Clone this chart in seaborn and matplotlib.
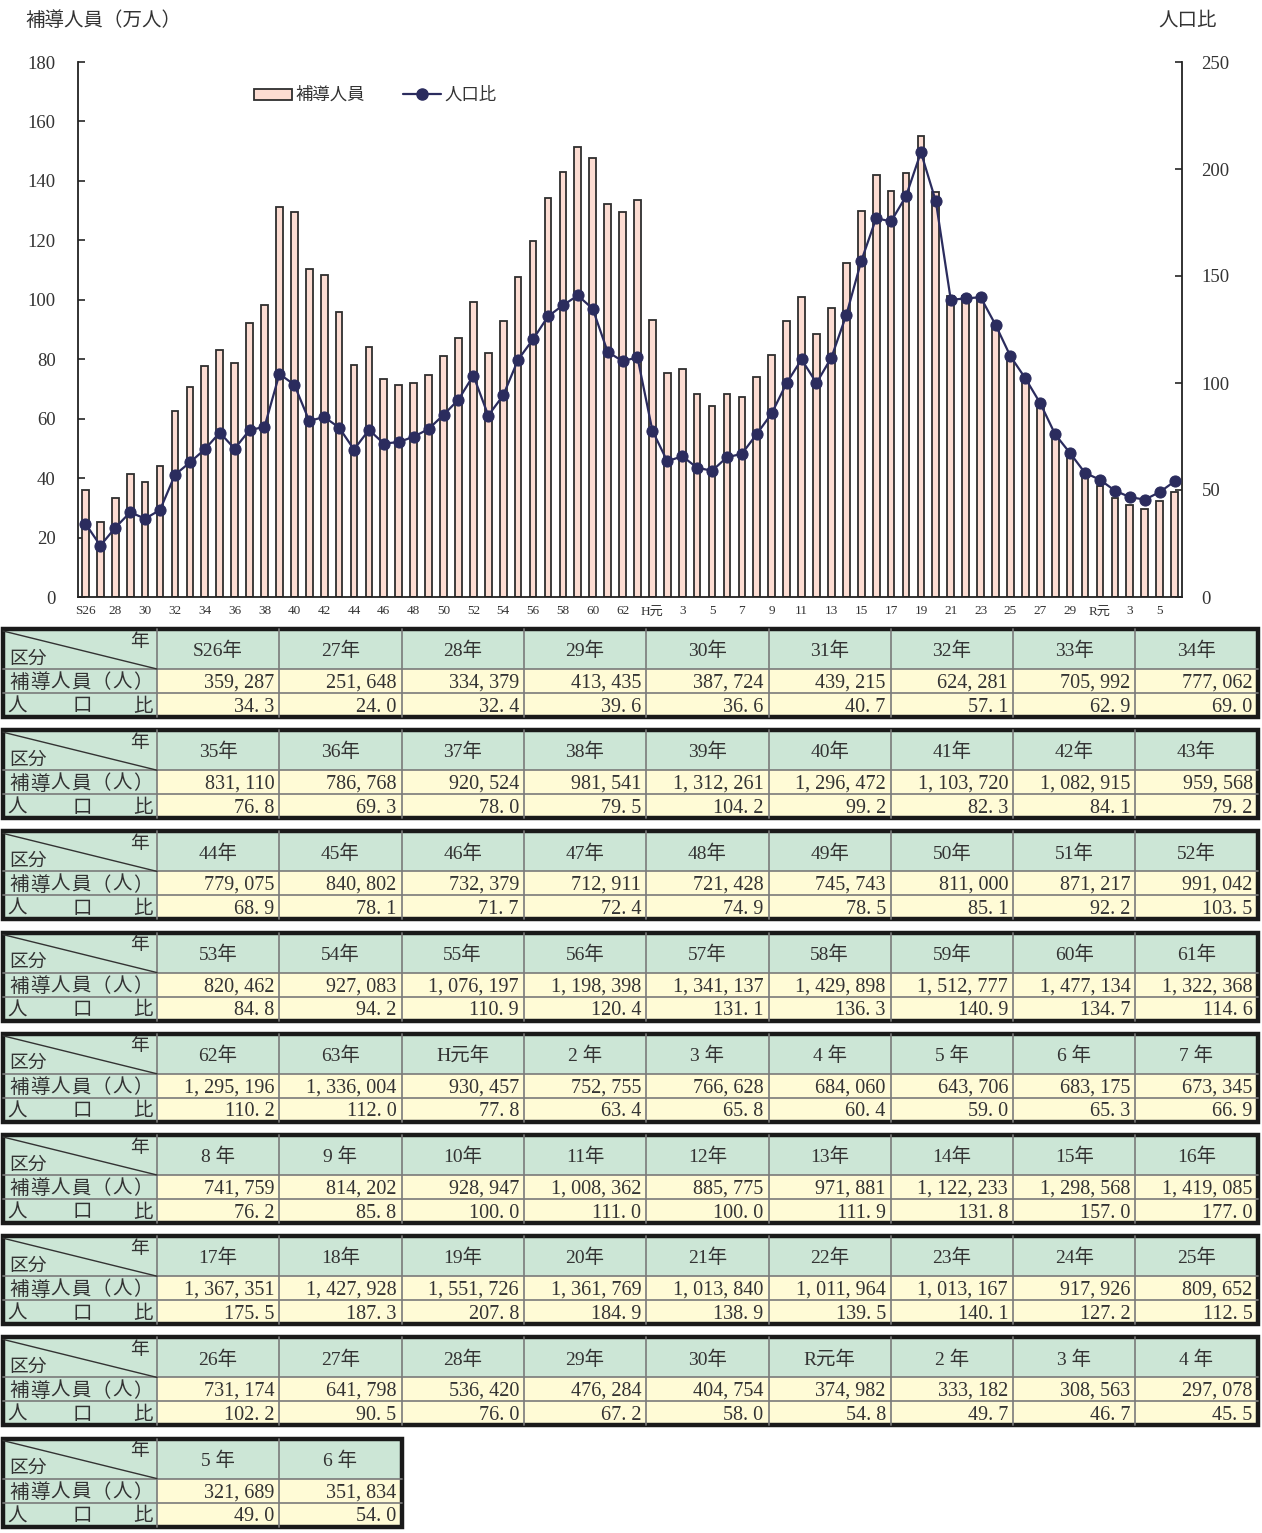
import matplotlib
matplotlib.use("Agg")
import matplotlib.pyplot as plt
from matplotlib.patches import Rectangle
from matplotlib.lines import Line2D
import seaborn as sns
import pandas as pd
import numpy as np

# ---- data -------------------------------------------------------------
years = (["S26年"] + [f"{y}年" for y in range(27, 64)]
         + ["H元年"] + [f"{y}年" if y >= 10 else f"{y} 年" for y in range(2, 31)]
         + ["R元年"] + [f"{y} 年" for y in range(2, 7)])

persons = [
    359287, 251648, 334379, 413435, 387724, 439215, 624281, 705992, 777062,
    831110, 786768, 920524, 981541, 1312261, 1296472, 1103720, 1082915, 959568,
    779075, 840802, 732379, 712911, 721428, 745743, 811000, 871217, 991042,
    820462, 927083, 1076197, 1198398, 1341137, 1429898, 1512777, 1477134, 1322368,
    1295196, 1336004, 930457, 752755, 766628, 684060, 643706, 683175, 673345,
    741759, 814202, 928947, 1008362, 885775, 971881, 1122233, 1298568, 1419085,
    1367351, 1427928, 1551726, 1361769, 1013840, 1011964, 1013167, 917926, 809652,
    731174, 641798, 536420, 476284, 404754, 374982, 333182, 308563, 297078,
    321689, 351834,
]

ratio = [
    34.3, 24.0, 32.4, 39.6, 36.6, 40.7, 57.1, 62.9, 69.0,
    76.8, 69.3, 78.0, 79.5, 104.2, 99.2, 82.3, 84.1, 79.2,
    68.9, 78.1, 71.7, 72.4, 74.9, 78.5, 85.1, 92.2, 103.5,
    84.8, 94.2, 110.9, 120.4, 131.1, 136.3, 140.9, 134.7, 114.6,
    110.2, 112.0, 77.8, 63.4, 65.8, 60.4, 59.0, 65.3, 66.9,
    76.2, 85.8, 100.0, 111.0, 100.0, 111.9, 131.8, 157.0, 177.0,
    175.5, 187.3, 207.8, 184.9, 138.9, 139.5, 140.1, 127.2, 112.5,
    102.2, 90.5, 76.0, 67.2, 58.0, 54.8, 49.7, 46.7, 45.5,
    49.0, 54.0,
]

axis_labels = (["S26"] + [str(y) for y in range(28, 63, 2)] + ["H元"]
               + [str(y) for y in range(3, 30, 2)] + ["R元", "3", "5"])

# ---- style ------------------------------------------------------------
sns.set_theme(style="white")
plt.rcParams["font.family"] = ["Liberation Serif", "Noto Sans CJK JP", "DejaVu Sans"]
plt.rcParams["axes.unicode_minus"] = False

BAR_FACE = "#fcdcd2"
BAR_EDGE = "#2e2e2e"
LINE_COL = "#2b2c5e"
HEAD_BG = "#cce6d6"
CELL_BG = "#fffbd6"
TXT = "#333333"

W, H = 1262, 1533
fig = plt.figure(figsize=(W / 100, H / 100), dpi=100)

df = pd.DataFrame({
    "pos": np.arange(len(years)),
    "year": years,
    "man": np.array(persons) / 10000.0,
    "ratio": ratio,
})

# ---- chart ------------------------------------------------------------
x0, x1, y_top, y_bot = 78, 1182, 62, 597
ax = fig.add_axes([x0 / W, 1 - y_bot / H, (x1 - x0) / W, (y_bot - y_top) / H])
sns.barplot(data=df, x="pos", y="man", ax=ax, color=BAR_FACE, edgecolor=BAR_EDGE,
            linewidth=1.3, width=0.45, saturation=1, zorder=2)
ax.set_xlim(-0.5, len(years) - 0.5)
ax.set_ylim(0, 180)
ax.set_yticks(np.arange(0, 181, 20))
ax.set_xticks(np.arange(0, len(years), 2))
ax.set_xticklabels(axis_labels, fontsize=9.5, color=TXT)
ax.set_xticks(np.arange(len(years)) + 0.5, minor=True)
ax.tick_params(axis="x", which="major", length=0, pad=6)
ax.tick_params(axis="x", which="minor", length=3, direction="in", width=1, color="#333")
ax.tick_params(axis="y", which="major", length=5, direction="in", labelsize=13.5,
               labelcolor=TXT, pad=16, width=1.2)
ax.set_xlabel("")
ax.set_ylabel("")
for s in ["top", "right"]:
    ax.spines[s].set_visible(False)
for s in ["left", "bottom"]:
    ax.spines[s].set_color("#222")
    ax.spines[s].set_linewidth(1.3)

ax2 = ax.twinx()
sns.lineplot(data=df, x="pos", y="ratio", ax=ax2, color=LINE_COL, linewidth=1.6,
             marker="o", markersize=8, markeredgecolor=LINE_COL, zorder=3)
ax2.set_ylim(0, 250)
ax2.set_yticks(np.arange(0, 251, 50))
ax2.tick_params(axis="y", length=5, direction="in", labelsize=13.5, labelcolor=TXT,
                pad=14, width=1.2)
ax2.set_ylabel("")
ax2.set_xlabel("")
for s in ["top", "left", "bottom"]:
    ax2.spines[s].set_visible(False)
ax2.spines["right"].set_color("#222")
ax2.spines["right"].set_linewidth(1.3)

fig.text(25 / W, 1 - 21 / H, "補導人員（万人）", fontsize=14, color=TXT,
         va="center", ha="left")
fig.text(1217 / W, 1 - 21 / H, "人口比", fontsize=14, color=TXT,
         va="center", ha="right")

handles = [Rectangle((0, 0), 1, 1, facecolor=BAR_FACE, edgecolor=BAR_EDGE, linewidth=1.3),
           Line2D([], [], color=LINE_COL, marker="o", markersize=8, linewidth=1.6)]
fig.legend(handles, ["補導人員", "人口比"], loc="center left",
           bbox_to_anchor=(238 / W, 1 - 96 / H), ncol=2, frameon=False,
           fontsize=12.5, handlelength=2.2, handleheight=0.6, handletextpad=0.2,
           columnspacing=2.2, labelcolor=TXT)

# ---- yearly tables ----------------------------------------------------
tab = fig.add_axes([0, 0, 1, 1], zorder=-1)
tab.set_xlim(0, W)
tab.set_ylim(H, 0)
tab.axis("off")

LBL_L, LBL_R = 3, 157
COL_W = 122.3
HEAD_H, ROW_H = 40, 24
TOP0, STEP = 629, 101.2
PER_ROW = 9
DY = 2.0  # baseline nudge for text inside cells


def fmt_int(v):
    return f"{v:,}".replace(",", ", ")


for b in range(int(np.ceil(len(years) / PER_ROW))):
    idx = list(range(b * PER_ROW, min((b + 1) * PER_ROW, len(years))))
    top = TOP0 + b * STEP
    right = LBL_R + COL_W * len(idx)
    r1 = top + HEAD_H
    r2 = r1 + ROW_H
    bot = r2 + ROW_H

    # backgrounds
    tab.add_patch(Rectangle((LBL_L, top), right - LBL_L, HEAD_H, facecolor=HEAD_BG,
                            edgecolor="none"))
    tab.add_patch(Rectangle((LBL_L, r1), LBL_R - LBL_L, 2 * ROW_H, facecolor=HEAD_BG,
                            edgecolor="none"))
    tab.add_patch(Rectangle((LBL_R, r1), right - LBL_R, 2 * ROW_H, facecolor=CELL_BG,
                            edgecolor="none"))

    # inner grid
    for yy in (r1, r2):
        tab.plot([LBL_L, right], [yy, yy], color="#7a7a7a", lw=1.2)
    for k in range(len(idx)):
        xx = LBL_R + COL_W * k
        tab.plot([xx, xx], [top, bot], color="#7a7a7a", lw=1.2)
    tab.plot([LBL_L, LBL_R], [top + 2, r1], color="#333", lw=1.0)

    # outer border
    tab.add_patch(Rectangle((LBL_L, top), right - LBL_L, bot - top, facecolor="none",
                            edgecolor="#1a1a1a", lw=3.2))

    # label column
    tab.text(LBL_R - 8, top + 13, "年", fontsize=13.5, color=TXT, ha="right", va="center")
    tab.text(LBL_L + 6, r1 - 10, "区分", fontsize=13.5, color=TXT, ha="left", va="center")
    chars = list("補導人員（人）")
    for k, ch in enumerate(chars):
        cx = LBL_L + 16 + k * (LBL_R - LBL_L - 30) / (len(chars) - 1)
        tab.text(cx, (r1 + r2) / 2 + DY, ch, fontsize=14, color=TXT, ha="center",
                 va="center")
    for ch, cx in zip("人口比", (LBL_L + 14, (LBL_L + LBL_R) / 2 + 2, LBL_R - 14)):
        tab.text(cx, (r2 + bot) / 2 + DY, ch, fontsize=14, color=TXT, ha="center",
                 va="center")

    # year columns
    for k, i in enumerate(idx):
        cl = LBL_R + COL_W * k
        tab.text(cl + COL_W / 2, top + HEAD_H / 2 + DY, years[i], fontsize=14,
                 color=TXT, ha="center", va="center")
        tab.text(cl + COL_W - 5, (r1 + r2) / 2 + DY, fmt_int(persons[i]), fontsize=14.5,
                 color=TXT, ha="right", va="center")
        tab.text(cl + COL_W - 5, (r2 + bot) / 2 + DY, f"{ratio[i]:.1f}".replace(".", ". "),
                 fontsize=14.5, color=TXT, ha="right", va="center")

fig.savefig("out.png", dpi=100)
